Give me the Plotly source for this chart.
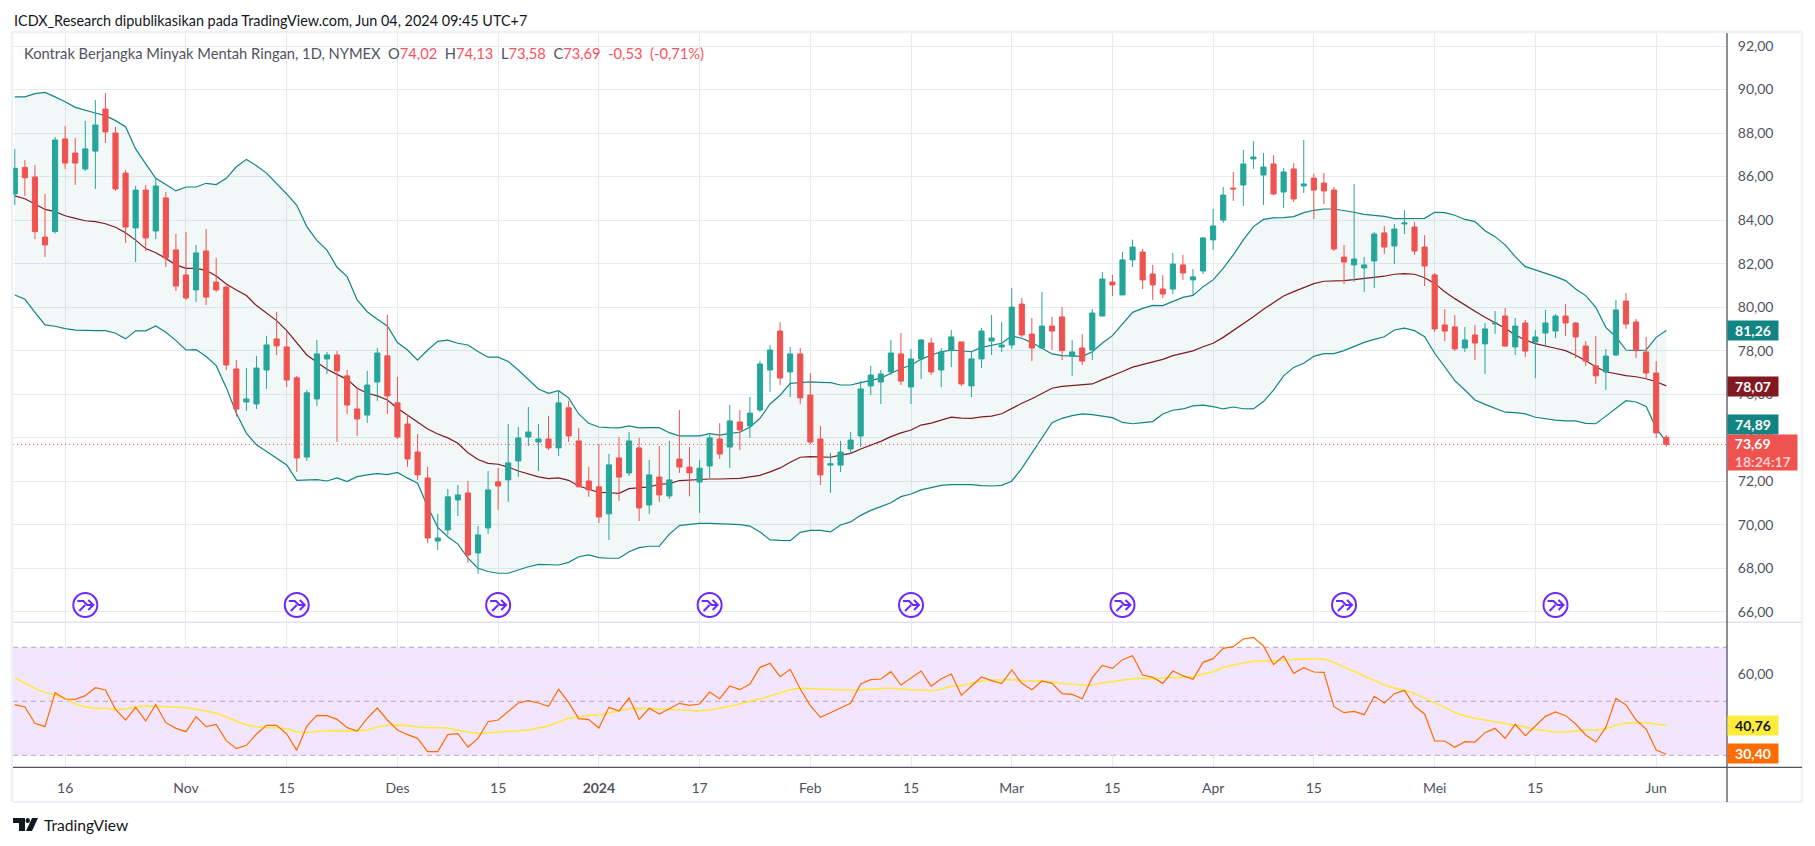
import plotly.graph_objects as go

W, H = 1815, 846

# ---------- data ----------
direction = list(
    "GRRRGRRGGR" "RRGRGRRRGR" "RRRGGGRRRG" "GGRRRGGRRR"
    "RRGGGRGGRG" "GGGRGRRRRG" "RGRGRGRRGG" "RGRGGGRGRR"
    "RGGGGGGGRG" "GRGGRGGGGG" "RRGRRGRGGR" "GGRRRGRGGG"
    "GRGGGRGRGR" "RRRGGGRGGR" "RRRRGRGGRG" "RGGGRRRRGG" "RRRRR"
)
body_top = [
    86.38, 86.42, 85.98, 83.22, 87.68, 87.73, 87.08, 87.27, 88.37, 89.10,
    88.00, 86.16, 85.38, 85.38, 85.57, 85.02, 82.63, 81.48, 82.49, 82.58,
    81.15, 80.92, 77.16, 75.78, 77.20, 78.26, 78.54, 78.17, 76.75, 76.06,
    77.85, 77.80, 77.80, 76.84, 75.32, 76.42, 77.89, 77.76, 75.60, 74.63,
    73.34, 72.15, 69.39, 71.28, 71.37, 71.46, 69.53, 71.60, 71.97, 72.84,
    73.99, 74.26, 73.94, 73.94, 75.60, 75.37, 73.85, 72.01, 71.74, 72.75,
    73.07, 73.85, 73.53, 72.29, 72.19, 72.06, 73.02, 72.65, 72.60, 73.99,
    73.94, 74.77, 74.72, 75.13, 77.39, 78.03, 78.90, 77.85, 77.85, 75.96,
    73.94, 72.80, 73.34, 73.89, 76.24, 76.88, 76.93, 77.89, 77.85, 77.62,
    78.49, 78.35, 77.94, 78.63, 78.40, 77.62, 78.90, 78.58, 78.26, 80.00,
    80.14, 78.76, 79.13, 79.13, 79.55, 77.94, 78.12, 79.73, 81.29, 81.15,
    82.17, 82.76, 82.53, 81.52, 80.83, 81.98, 81.94, 81.39, 83.18, 83.73,
    85.15, 85.47, 86.58, 86.90, 86.44, 86.58, 86.21, 86.35, 85.66, 85.93,
    85.70, 85.38, 82.30, 82.21, 81.94, 83.36, 83.41, 83.59, 83.87, 83.68,
    82.76, 81.48, 79.18, 79.09, 78.49, 78.72, 79.00, 79.27, 79.59, 79.13,
    79.27, 78.63, 79.27, 79.59, 79.59, 79.27, 78.21, 77.30, 77.75, 79.87,
    80.28, 79.32, 77.94, 76.97, 74.02,
]
body_bottom = [
    85.20, 85.95, 83.47, 82.86, 83.47, 86.62, 86.62, 86.35, 87.17, 88.05,
    85.43, 83.68, 83.64, 83.18, 83.50, 82.26, 80.97, 80.42, 80.79, 80.46,
    80.79, 77.34, 75.32, 75.64, 75.55, 77.11, 78.22, 76.65, 73.07, 73.11,
    75.78, 77.62, 77.07, 75.50, 74.86, 75.04, 76.56, 75.92, 74.03, 73.02,
    72.29, 69.39, 69.25, 69.76, 71.14, 68.61, 68.70, 69.85, 71.78, 72.06,
    72.93, 74.03, 73.80, 73.53, 73.53, 74.08, 71.74, 71.60, 70.36, 70.50,
    72.19, 72.38, 70.77, 70.91, 71.37, 71.32, 72.65, 72.38, 71.96, 72.70,
    73.25, 73.57, 74.35, 74.54, 75.27, 77.11, 76.74, 77.02, 75.83, 73.80,
    72.29, 72.74, 72.74, 73.48, 74.08, 76.38, 76.56, 77.02, 76.60, 76.33,
    77.62, 77.02, 77.11, 78.03, 76.47, 76.38, 77.62, 78.44, 78.17, 78.26,
    78.72, 78.12, 78.12, 78.90, 78.00, 77.75, 77.52, 78.03, 79.59, 81.02,
    80.56, 82.17, 81.25, 81.02, 80.60, 80.83, 81.57, 81.25, 81.66, 83.09,
    84.00, 85.43, 85.61, 86.81, 86.07, 85.20, 85.29, 84.97, 85.57, 85.38,
    85.34, 82.67, 82.07, 81.94, 81.80, 82.12, 82.76, 82.81, 83.82, 82.58,
    81.89, 79.00, 78.90, 78.08, 78.12, 78.35, 78.31, 79.23, 78.21, 78.17,
    77.98, 78.40, 78.81, 78.90, 79.27, 78.63, 77.52, 76.84, 77.02, 77.80,
    79.22, 78.01, 76.97, 74.22, 73.69,
]
highs = [
    87.27, 86.76, 86.53, 85.20, 87.82, 88.32, 87.77, 88.55, 89.52, 89.84,
    88.28, 86.30, 85.57, 85.61, 85.89, 85.29, 83.36, 83.45, 82.86, 83.59,
    82.26, 81.00, 77.57, 77.20, 77.76, 78.68, 79.78, 78.86, 76.84, 76.19,
    78.49, 77.94, 77.99, 77.11, 76.29, 77.07, 78.12, 79.64, 76.79, 75.04,
    74.17, 72.66, 70.50, 71.64, 71.83, 72.01, 69.94, 72.47, 72.61, 74.63,
    74.49, 75.41, 74.63, 75.00, 76.19, 75.69, 74.45, 72.66, 73.71, 73.25,
    74.03, 74.26, 73.99, 72.98, 73.62, 73.85, 75.27, 73.57, 72.98, 74.12,
    74.67, 75.50, 75.27, 75.87, 77.52, 78.26, 79.30, 78.17, 78.12, 76.97,
    74.54, 73.30, 73.85, 74.26, 76.60, 77.30, 77.11, 78.49, 78.81, 78.08,
    78.53, 78.58, 78.12, 78.95, 78.40, 77.98, 79.04, 79.64, 79.32, 80.88,
    80.42, 79.50, 80.70, 79.55, 80.00, 78.49, 78.76, 79.91, 81.61, 81.48,
    82.53, 83.10, 82.67, 81.94, 81.48, 82.49, 82.40, 81.75, 83.22, 84.51,
    85.52, 86.21, 87.22, 87.63, 87.08, 86.99, 86.39, 86.62, 87.68, 86.12,
    86.16, 85.52, 82.86, 85.66, 82.30, 83.45, 83.73, 83.82, 84.46, 83.91,
    83.31, 81.57, 79.91, 79.64, 79.09, 79.18, 79.27, 79.82, 79.96, 79.50,
    79.41, 78.95, 79.87, 79.68, 80.14, 79.32, 78.44, 78.67, 78.08, 80.33,
    80.65, 79.46, 78.63, 77.52, 74.13,
]
lows = [
    84.69, 85.11, 83.13, 82.30, 83.38, 86.35, 85.61, 86.25, 85.43, 87.54,
    85.34, 82.95, 82.07, 82.58, 83.13, 81.84, 80.74, 80.33, 80.24, 80.10,
    80.70, 77.11, 74.97, 75.23, 75.32, 76.24, 77.80, 76.33, 72.43, 72.93,
    75.46, 76.93, 73.80, 75.09, 74.08, 74.68, 75.69, 75.09, 73.94, 72.66,
    72.06, 69.16, 68.84, 69.53, 70.40, 68.24, 67.74, 69.58, 70.68, 71.05,
    72.20, 73.62, 72.47, 73.44, 73.16, 73.80, 71.74, 71.28, 70.08, 69.30,
    71.09, 72.24, 70.17, 70.49, 71.05, 71.18, 72.38, 71.30, 70.54, 72.15,
    73.02, 72.61, 73.43, 73.99, 75.18, 76.10, 76.42, 75.87, 75.55, 73.71,
    71.83, 71.46, 72.42, 73.25, 73.57, 75.96, 75.55, 76.88, 76.42, 75.55,
    76.70, 76.88, 76.33, 77.25, 76.38, 75.87, 77.20, 77.80, 77.94, 78.08,
    78.63, 77.52, 78.08, 78.03, 77.57, 76.84, 77.34, 77.57, 79.59, 80.51,
    80.56, 81.84, 80.83, 80.33, 80.42, 80.60, 81.25, 80.56, 81.52, 82.63,
    83.87, 84.88, 84.65, 86.35, 84.69, 85.15, 84.56, 84.83, 85.25, 84.05,
    84.74, 82.58, 81.06, 81.16, 80.70, 80.88, 82.44, 81.98, 83.36, 82.40,
    80.97, 78.86, 78.44, 77.98, 77.94, 77.57, 76.93, 78.77, 78.17, 77.80,
    77.71, 76.74, 78.21, 78.58, 78.67, 77.66, 77.30, 76.47, 76.19, 77.75,
    79.00, 77.66, 76.70, 73.99, 73.58,
]
bb_upper = [
    89.66, 89.66, 89.81, 89.87, 89.66, 89.44, 89.18, 89.04, 88.92, 88.80,
    88.57, 88.29, 87.27, 86.58, 85.92, 85.64, 85.34, 85.52, 85.52, 85.69,
    85.63, 85.92, 86.45, 86.79, 86.50, 86.16, 85.70, 85.20, 84.68, 83.70,
    83.07, 82.62, 81.83, 81.40, 80.33, 79.79, 79.44, 79.13, 78.37, 78.03,
    77.56, 78.03, 78.43, 78.48, 78.34, 78.26, 77.96, 77.70, 77.70, 77.50,
    77.11, 76.68, 76.24, 76.04, 76.16, 75.83, 75.09, 74.66, 74.49, 74.46,
    74.45, 74.54, 74.45, 74.46, 74.46, 74.23, 74.08, 74.08, 74.08, 74.19,
    74.12, 74.20, 74.25, 74.48, 74.89, 75.55, 75.95, 76.50, 76.54, 76.56,
    76.54, 76.53, 76.42, 76.42, 76.53, 76.65, 76.74, 76.96, 77.17, 77.34,
    77.60, 77.80, 77.94, 78.03, 78.00, 77.95, 78.15, 78.24, 78.34, 78.67,
    78.57, 78.37, 78.11, 77.85, 77.77, 77.74, 77.74, 77.95, 78.35, 78.69,
    79.22, 79.76, 79.94, 80.08, 80.07, 80.27, 80.45, 80.54, 80.94, 81.25,
    81.78, 82.40, 83.09, 83.70, 84.03, 84.10, 84.11, 84.16, 84.34, 84.45,
    84.51, 84.51, 84.45, 84.36, 84.26, 84.23, 84.17, 84.07, 84.07, 84.07,
    84.08, 84.36, 84.34, 84.22, 84.03, 83.93, 83.51, 83.24, 82.86, 82.32,
    81.86, 81.71, 81.57, 81.40, 81.22, 80.83, 80.53, 79.99, 79.07, 78.64,
    78.03, 78.00, 78.03, 78.61, 78.93,
]
bb_basis = [
    85.11, 84.98, 84.74, 84.49, 84.39, 84.20, 84.08, 83.97, 83.93, 83.83,
    83.67, 83.42, 83.08, 82.69, 82.50, 82.24, 81.94, 81.78, 81.78, 81.69,
    81.43, 81.06, 80.79, 80.53, 80.07, 79.71, 79.38, 78.92, 78.34, 77.80,
    77.47, 77.14, 76.91, 76.68, 76.27, 76.04, 75.92, 75.73, 75.35, 75.04,
    74.71, 74.40, 74.17, 73.99, 73.74, 73.31, 73.00, 72.82, 72.78, 72.65,
    72.47, 72.33, 72.20, 72.12, 72.15, 72.04, 71.78, 71.63, 71.49, 71.47,
    71.44, 71.66, 71.70, 71.74, 71.86, 71.89, 72.03, 72.06, 72.09, 72.10,
    72.10, 72.12, 72.13, 72.20, 72.27, 72.43, 72.61, 72.87, 73.10, 73.13,
    73.13, 73.10, 73.20, 73.28, 73.48, 73.66, 73.83, 74.05, 74.22, 74.35,
    74.58, 74.67, 74.80, 74.94, 74.90, 74.89, 74.96, 74.99, 75.10, 75.35,
    75.58, 75.79, 76.04, 76.27, 76.36, 76.39, 76.42, 76.47, 76.67, 76.84,
    77.04, 77.24, 77.36, 77.45, 77.60, 77.77, 77.88, 77.99, 78.18, 78.34,
    78.61, 78.92, 79.21, 79.56, 79.90, 80.21, 80.51, 80.71, 80.89, 81.08,
    81.19, 81.19, 81.22, 81.26, 81.31, 81.37, 81.42, 81.51, 81.54, 81.51,
    81.35, 81.09, 80.71, 80.39, 80.08, 79.81, 79.53, 79.26, 79.03, 78.72,
    78.49, 78.32, 78.20, 78.11, 78.00, 77.79, 77.54, 77.26, 77.03, 76.93,
    76.85, 76.80, 76.71, 76.57, 76.38,
]
bb_lower = [
    80.56, 80.36, 79.76, 79.18, 79.12, 79.01, 78.94, 78.92, 78.92, 78.92,
    78.80, 78.54, 78.91, 78.91, 79.13, 78.84, 78.46, 78.03, 78.05, 77.73,
    77.31, 76.30, 75.12, 74.20, 73.67, 73.36, 73.06, 72.75, 72.04, 72.04,
    72.07, 72.01, 72.15, 71.98, 72.21, 72.29, 72.35, 72.30, 72.40, 72.14,
    71.91, 70.83, 69.88, 69.45, 69.11, 68.46, 68.00, 67.85, 67.77, 67.77,
    67.92, 68.07, 68.18, 68.18, 68.15, 68.27, 68.53, 68.61, 68.49, 68.46,
    68.46, 68.76, 68.95, 69.01, 69.02, 69.57, 69.96, 70.02, 70.06, 70.06,
    70.06, 70.03, 70.00, 69.94, 69.67, 69.30, 69.28, 69.27, 69.65, 69.74,
    69.74, 69.67, 69.99, 70.13, 70.43, 70.66, 70.83, 71.01, 71.29, 71.41,
    71.60, 71.69, 71.81, 71.84, 71.84, 71.84, 71.80, 71.78, 71.81, 72.00,
    72.59, 73.28, 73.97, 74.69, 74.89, 75.01, 75.09, 75.06, 74.99, 74.92,
    74.70, 74.64, 74.69, 74.74, 75.09, 75.26, 75.32, 75.46, 75.50, 75.43,
    75.32, 75.41, 75.33, 75.32, 75.66, 76.19, 76.84, 77.23, 77.42, 77.74,
    77.86, 77.86, 78.00, 78.18, 78.38, 78.52, 78.64, 78.95, 79.03, 78.92,
    78.64, 77.88, 77.26, 76.62, 76.19, 75.73, 75.53, 75.35, 75.17, 75.15,
    75.09, 74.94, 74.86, 74.81, 74.77, 74.77, 74.66, 74.64, 74.99, 75.35,
    75.70, 75.64, 75.43, 74.43, 73.82,
]
rsi = [
    48.75, 47.89, 41.84, 40.60, 53.20, 50.85, 50.73, 52.08, 55.05, 54.18,
    47.00, 43.07, 47.76, 42.70, 48.75, 42.08, 39.99, 38.75, 44.31, 40.60,
    41.47, 35.42, 32.45, 33.69, 37.89, 41.10, 41.10, 37.89, 31.84, 40.85,
    44.80, 44.68, 43.32, 40.23, 38.99, 43.69, 47.52, 43.07, 39.37, 37.64,
    36.28, 31.34, 31.34, 37.64, 38.01, 33.07, 36.28, 42.45, 43.07, 46.16,
    49.37, 50.23, 49.37, 48.13, 54.43, 49.62, 43.57, 43.20, 40.11, 47.76,
    46.41, 51.22, 43.32, 47.40, 45.30, 47.27, 49.25, 48.50, 49.00, 53.44,
    50.97, 55.67, 54.31, 56.41, 62.58, 64.06, 59.12, 61.84, 54.55, 48.38,
    44.06, 45.79, 47.52, 49.25, 56.41, 58.01, 58.26, 60.97, 56.04, 58.63,
    61.22, 55.54, 58.38, 60.11, 52.21, 55.66, 59.00, 57.64, 56.53, 61.59,
    56.65, 54.31, 57.52, 56.65, 52.83, 52.58, 50.97, 58.75, 63.32, 62.21,
    65.42, 66.90, 59.74, 58.87, 56.65, 61.22, 59.49, 58.13, 64.43, 65.79,
    69.62, 70.23, 73.07, 73.69, 70.48, 63.57, 66.78, 60.36, 62.46, 60.85,
    60.73, 48.01, 45.79, 46.28, 45.05, 51.84, 49.37, 52.83, 54.06, 48.26,
    45.30, 35.29, 35.29, 32.95, 35.05, 34.92, 38.38, 39.99, 36.28, 41.47,
    37.27, 40.85, 44.43, 46.04, 44.68, 41.59, 37.52, 34.92, 40.35, 51.10,
    48.63, 43.07, 39.74, 31.96, 30.40,
]
rsi_ma = [
    58.75, 56.90, 54.80, 53.32, 52.33, 51.10, 49.00, 48.01, 47.39, 47.39,
    46.90, 47.15, 48.01, 48.26, 48.13, 47.89, 47.64, 47.64, 47.02, 46.28,
    45.54, 44.18, 42.70, 41.22, 40.60, 40.23, 40.23, 39.86, 38.63, 38.38,
    38.87, 39.12, 39.12, 38.99, 38.99, 39.37, 40.60, 41.10, 41.34, 40.97,
    40.60, 40.23, 40.23, 40.11, 39.24, 38.50, 38.01, 38.38, 38.63, 38.75,
    38.87, 39.37, 40.11, 40.85, 42.33, 43.81, 44.31, 44.80, 44.92, 45.79,
    46.65, 47.27, 47.39, 47.27, 47.02, 46.78, 46.78, 46.78, 46.53, 46.78,
    47.39, 48.13, 49.12, 49.86, 50.85, 51.96, 53.07, 54.31, 54.80, 54.68,
    54.43, 54.31, 54.06, 54.06, 54.31, 54.43, 54.80, 54.92, 54.55, 54.18,
    54.18, 53.94, 54.55, 55.54, 55.79, 56.78, 57.39, 57.89, 57.89, 58.01,
    57.64, 57.39, 57.52, 57.27, 56.53, 56.41, 55.91, 56.04, 56.78, 57.27,
    57.76, 58.38, 58.50, 58.38, 58.63, 58.87, 59.00, 59.12, 60.11, 60.97,
    62.58, 63.44, 64.18, 64.80, 64.80, 65.05, 65.17, 65.54, 65.67, 65.67,
    65.67, 64.43, 62.70, 60.97, 59.37, 57.64, 56.04, 54.92, 54.06, 52.83,
    51.22, 49.62, 47.76, 45.91, 44.55, 43.69, 43.07, 42.45, 41.84, 41.22,
    40.48, 39.61, 38.99, 38.63, 38.63, 38.99, 39.37, 39.37, 39.86, 41.22,
    41.84, 42.09, 42.09, 41.47, 41.10,
]
opens = [b if d == "G" else t for d, t, b in zip(direction, body_top, body_bottom)]
closes = [t if d == "G" else b for d, t, b in zip(direction, body_top, body_bottom)]
bars = list(range(len(closes)))

x_tick_bars = [5, 17, 27, 38, 48, 58, 68, 79, 89, 99, 109, 119, 129, 141, 151, 163]
x_tick_text = ["16", "Nov", "15", "Des", "15", "<b>2024</b>", "17", "Feb", "15", "Mar",
               "15", "Apr", "15", "Mei", "15", "Jun"]
price_ticks = [66, 68, 70, 72, 74, 76, 78, 80, 82, 84, 86, 88, 90, 92]
rsi_ticks = [40, 60]
rsi_levels = [70, 50, 30]
event_bars = [7, 28, 48, 69, 89, 110, 132, 153]
event_price = 66.31

title_text = "ICDX_Research dipublikasikan pada TradingView.com, Jun 04, 2024 09:45 UTC+7"
symbol_text = "Kontrak Berjangka Minyak Mentah Ringan, 1D, NYMEX"

# ---------- styling ----------
FONT = "Lato, Noto Sans, sans-serif"
UP, DOWN = "#26a69a", "#ef5350"
GRID = "#e4ecf2"
TEXT = "#50535e"
BAND = "#138484"
L, R, T, SEP, AX, B, RIGHT = 13, 1727, 33, 622.3, 767.3, 802, 1802


def px(x):
    return x / W


def py(y):
    return 1 - y / H


def paper_path(points):
    return "M " + " L ".join(f"{px(a):.5f} {py(b):.5f}" for a, b in points) + " Z"


fig = go.Figure()

# Bollinger bands on the base axes, candles on an overlay so they sit on top
fig.add_trace(go.Scatter(x=bars, y=bb_upper, mode="lines", line=dict(color=BAND, width=1.2),
                         xaxis="x", yaxis="y", hoverinfo="skip"))
fig.add_trace(go.Scatter(x=bars, y=bb_lower, mode="lines", line=dict(color=BAND, width=1.2),
                         fill="tonexty", fillcolor="rgba(19,132,132,0.055)",
                         xaxis="x", yaxis="y", hoverinfo="skip"))
fig.add_trace(go.Scatter(x=bars, y=bb_basis, mode="lines", line=dict(color="#801922", width=1.2),
                         xaxis="x", yaxis="y", hoverinfo="skip"))
fig.add_trace(go.Candlestick(
    x=bars, open=opens, high=highs, low=lows, close=closes,
    increasing=dict(line=dict(color=UP, width=1), fillcolor=UP),
    decreasing=dict(line=dict(color=DOWN, width=1), fillcolor=DOWN),
    whiskerwidth=0, xaxis="x", yaxis="y3", hoverinfo="skip",
))
fig.add_trace(go.Scatter(x=event_bars, y=[event_price] * len(event_bars), mode="markers",
                         marker=dict(symbol="circle-open", size=24, color="#6d28ff",
                                     line=dict(color="#6d28ff", width=2)),
                         xaxis="x", yaxis="y3", hoverinfo="skip"))
# RSI pane
fig.add_trace(go.Scatter(x=bars, y=rsi_ma, mode="lines", line=dict(color="#ffe83b", width=1.5),
                         xaxis="x2", yaxis="y2", hoverinfo="skip"))
fig.add_trace(go.Scatter(x=bars, y=rsi, mode="lines", line=dict(color="#ff6d00", width=1.2),
                         xaxis="x2", yaxis="y2", hoverinfo="skip"))

x_range = [(L - 14.8) / 10.07, (R - 14.8) / 10.07]
price_range = [92 - (SEP - 46) / 21.76, 92 - (T - 46) / 21.76]
rsi_range = [60 - (AX - 674.3) / 2.7, 60 - (SEP - 674.3) / 2.7]
tickfont = dict(family=FONT, size=14, color=TEXT)

fig.update_layout(
    width=W, height=H, autosize=False, showlegend=False,
    margin=dict(l=0, r=0, t=0, b=0, pad=0),
    paper_bgcolor="white", plot_bgcolor="white", separators=",.", boxgap=0.27,
    font=dict(family=FONT, size=14, color=TEXT),
    xaxis=dict(domain=[px(L), px(R)], range=x_range, anchor="y", showticklabels=False,
               tickmode="array", tickvals=x_tick_bars, ticks="", showgrid=True, gridcolor=GRID,
               gridwidth=1, zeroline=False, showline=False, rangeslider=dict(visible=False)),
    yaxis=dict(domain=[py(SEP), py(T)], range=price_range, side="right", anchor="x",
               tickmode="array", tickvals=price_ticks, tickformat=".2f", tickfont=tickfont,
               ticks="outside", ticklen=7, tickcolor="rgba(0,0,0,0)", showgrid=True,
               gridcolor=GRID, gridwidth=1, zeroline=False, showline=False),
    yaxis3=dict(overlaying="y", range=price_range, side="right", anchor="x", visible=False,
                showgrid=False, zeroline=False),
    xaxis2=dict(domain=[px(L), px(R)], range=x_range, anchor="y2", tickmode="array",
                tickvals=x_tick_bars, ticktext=x_tick_text, tickfont=tickfont, ticks="outside",
                ticklen=8, tickcolor="rgba(0,0,0,0)", showgrid=True, gridcolor=GRID, gridwidth=1,
                zeroline=False, showline=False, rangeslider=dict(visible=False)),
    yaxis2=dict(domain=[py(AX), py(SEP)], range=rsi_range, side="right", anchor="x2",
                tickmode="array", tickvals=rsi_ticks, tickformat=".2f", tickfont=tickfont,
                ticks="outside", ticklen=7, tickcolor="rgba(0,0,0,0)", showgrid=True,
                gridcolor=GRID, gridwidth=1, zeroline=False, showline=False),
)

shapes = []
# RSI band and level lines
shapes.append(dict(type="rect", xref="x2", yref="y2", x0=x_range[0], x1=x_range[1],
                   y0=rsi_levels[2], y1=rsi_levels[0], fillcolor="rgba(170,70,240,0.14)",
                   line=dict(width=0), layer="below"))
for lv in rsi_levels:
    shapes.append(dict(type="line", xref="x2", yref="y2", x0=x_range[0], x1=x_range[1], y0=lv, y1=lv,
                       line=dict(color="#b4a8bc", width=1, dash="5px,4px"), layer="below"))
# last price line
shapes.append(dict(type="line", xref="x", yref="y3", x0=x_range[0], x1=x_range[1],
                   y0=closes[-1], y1=closes[-1], line=dict(color="#f7525f", width=1, dash="1px,3px")))
# frame
for x0, y0, x1, y1, col, w in [
    (L, T - 1, RIGHT, T - 1, "#eff1f6", 2.5),
    (L, B, RIGHT, B, "#eff1f6", 2.5),
    (L - 1, T - 1, L - 1, B, "#eff1f6", 2.5),
    (RIGHT, T - 1, RIGHT, B, "#eff1f6", 2.5),
    (L, SEP, RIGHT, SEP, "#e0e3eb", 1.5),
    (L, AX, RIGHT, AX, "#50535e", 1.3),
    (R, T, R, B, "#50535e", 1.3),
]:
    shapes.append(dict(type="line", xref="paper", yref="paper", x0=px(x0), x1=px(x1),
                       y0=py(y0), y1=py(y1), line=dict(color=col, width=w)))
# arrows inside the event icons
for b in event_bars:
    shapes.append(dict(type="path", xref="x", yref="y3", xsizemode="pixel", ysizemode="pixel",
                       xanchor=b, yanchor=event_price,
                       path="M -8 4 L -2 4 L 2 0 L 8 0 M -6 -6 L 0 0 M 3 5 L 8 0 L 3 -5",
                       line=dict(color="#6d28ff", width=2)))
# TradingView logo
shapes.append(dict(type="path", xref="paper", yref="paper",
                   path=paper_path([(13, 818), (25, 818), (25, 831), (19, 831), (19, 823), (13, 823)]),
                   fillcolor="#131722", line=dict(width=0)))
shapes.append(dict(type="circle", xref="paper", yref="paper", x0=px(25.5), x1=px(30), y0=py(823), y1=py(818),
                   fillcolor="#131722", line=dict(width=0)))
shapes.append(dict(type="path", xref="paper", yref="paper",
                   path=paper_path([(32, 818), (38, 818), (32, 831), (26, 831)]),
                   fillcolor="#131722", line=dict(width=0)))
fig.update_layout(shapes=shapes)

RED = "#f7525f"
legend_html = (
    f'{symbol_text}&nbsp;&nbsp;O<span style="color:{RED}">74,02</span>&nbsp;&nbsp;'
    f'H<span style="color:{RED}">74,13</span>&nbsp;&nbsp;L<span style="color:{RED}">73,58</span>&nbsp;&nbsp;'
    f'C<span style="color:{RED}">73,69&nbsp;&nbsp;-0,53&nbsp;&nbsp;(-0,71%)</span>'
)


def text(x, y, s, size=14, color=TEXT, **kw):
    return dict(xref="paper", yref="paper", x=px(x), y=py(y), text=s, showarrow=False,
                xanchor="left", yanchor="middle", align="left",
                font=dict(family=FONT, size=size, color=color), **kw)


def badge(y0, y1, s, bg, color="white", right=1777, align="center"):
    return dict(xref="paper", yref="paper", x=px(R), y=py((y0 + y1) / 2), text=s, showarrow=False,
                xanchor="left", yanchor="middle", align=align, valign="middle",
                width=right - R, height=y1 - y0, bgcolor=bg, borderpad=0,
                font=dict(family=FONT, size=14, color=color))


annotations = [
    text(12, 20, title_text, size=14.4, color="#131722"),
    text(22, 53, legend_html, size=14.7),
    text(42, 825, "TradingView", size=15.6, color="#131722"),
    badge(321, 340, "<b>81,26</b>", BAND),
    badge(377, 396, "<b>78,07</b>", "#801922"),
    badge(415, 434, "<b>74,89</b>", BAND),
    badge(435, 470, '<b>&nbsp;&nbsp;73,69</b><br><b><span style="color:#fcc">&nbsp;&nbsp;18:24:17</span></b>',
          "#ef5350", right=1796, align="left"),
    badge(716, 735, "<b>40,76</b>", "#ffeb3b", color="#131722"),
    badge(744, 763, "<b>30,40</b>", "#ff6d00"),
]
fig.update_layout(annotations=annotations)

fig.write_html(
    "out.html",
    config={"displayModeBar": False},
    post_script="document.body.style.margin='0';document.documentElement.style.overflow='hidden';",
)
